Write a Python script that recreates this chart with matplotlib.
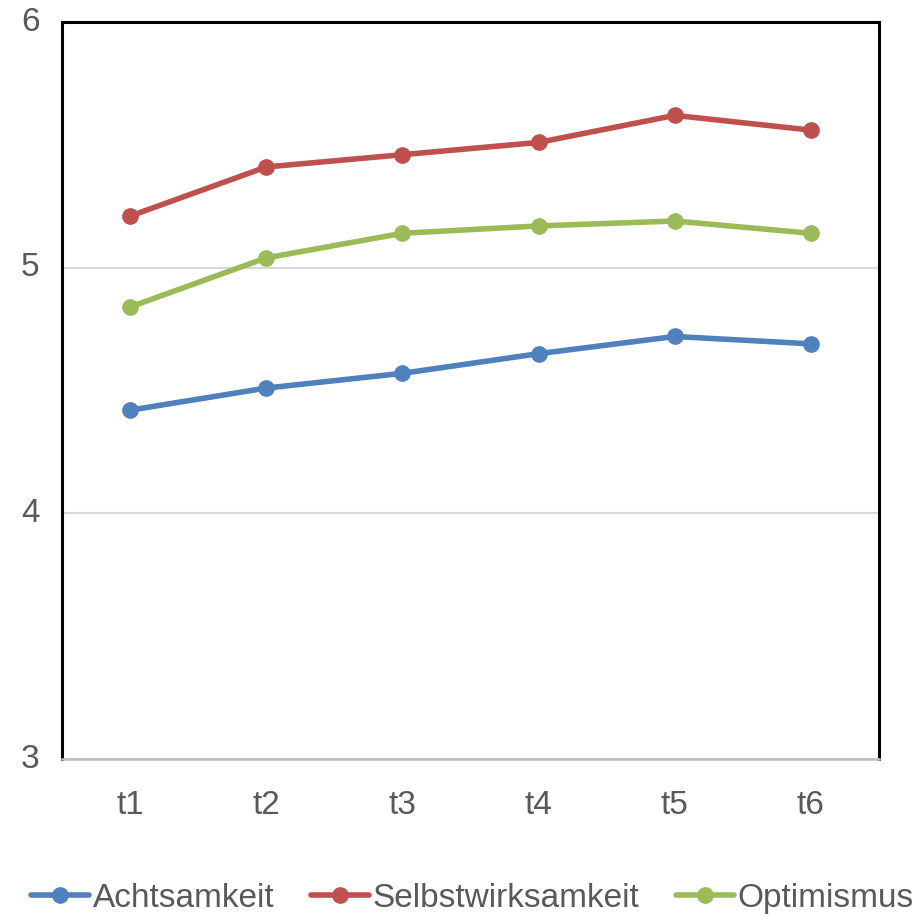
import matplotlib
matplotlib.use('Agg')
from matplotlib import pyplot as plt

plt.rcParams['font.family'] = ['Liberation Sans', 'DejaVu Sans']

zeitpunkte = ['t1', 't2', 't3', 't4', 't5', 't6']
achtsamkeit = [4.42, 4.51, 4.57, 4.65, 4.72, 4.69]
selbstwirksamkeit = [5.21, 5.41, 5.46, 5.51, 5.62, 5.56]
optimismus = [4.84, 5.04, 5.14, 5.17, 5.19, 5.14]

namen = ['Achtsamkeit', 'Selbstwirksamkeit', 'Optimismus']
farben = ['#4F81BD', '#C0504D', '#9BBB59']
grau = '#595959'

fig = plt.figure(figsize=(9.21, 9.18), dpi=100)
ax = fig.add_axes([0.0673, 0.1732, 0.8871, 0.8028])

x = list(range(len(zeitpunkte)))
for werte, name, farbe in zip([achtsamkeit, selbstwirksamkeit, optimismus], namen, farben):
    ax.plot(x, werte, color=farbe, lw=4, marker='o', ms=11, label=name,
            solid_capstyle='round', zorder=3)

ax.set_xlim(-0.5, 5.5)
ax.set_ylim(3, 6)
ax.set_yticks([3, 4, 5, 6])
ax.set_xticks(x)
ax.set_xticklabels(zeitpunkte)
ax.grid(axis='y', color='#D9D9D9', lw=1.5)
ax.set_axisbelow(True)

for s in ['left', 'top', 'right']:
    ax.spines[s].set_color('black')
    ax.spines[s].set_linewidth(2.2)
ax.spines['bottom'].set_color('#BFBFBF')
ax.spines['bottom'].set_linewidth(1.8)

ax.tick_params(axis='both', length=0, labelsize=24, colors=grau)
ax.tick_params(axis='x', pad=22)
ax.tick_params(axis='y', pad=16)
for lab in ax.get_yticklabels():
    lab.set_verticalalignment('center')

fig.legend(loc='lower center', bbox_to_anchor=(0.513, -0.028), ncol=3, frameon=False,
           fontsize=24, labelcolor=grau, handlelength=1.75, handletextpad=0.1,
           columnspacing=1.1)

fig.savefig('out.png', dpi=100)
